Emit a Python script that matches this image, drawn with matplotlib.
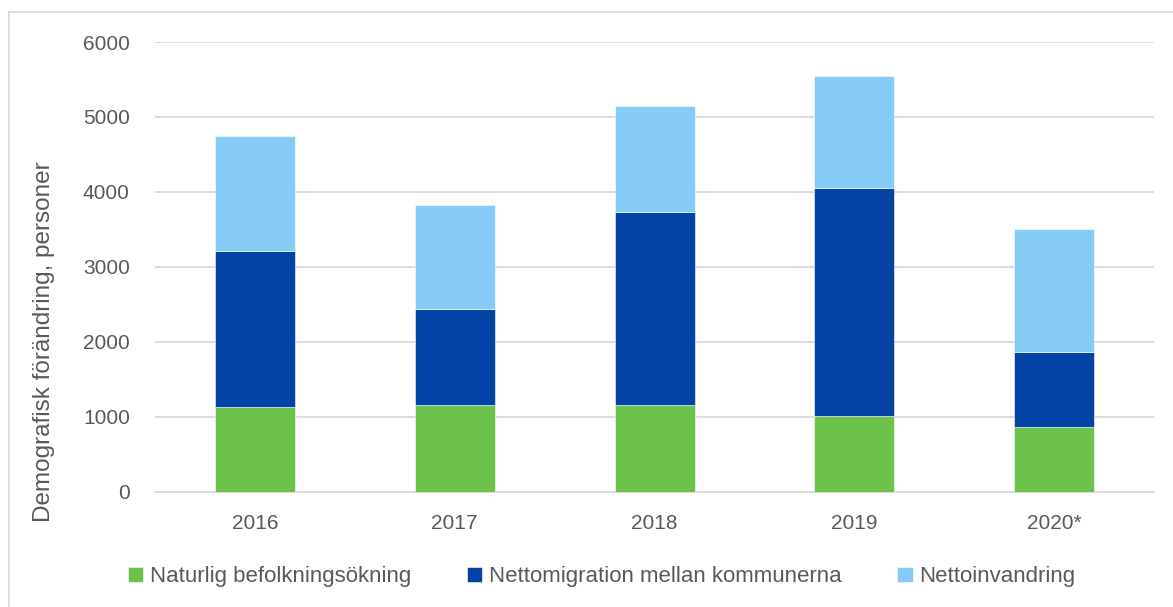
import matplotlib
matplotlib.use("Agg")
import matplotlib.pyplot as plt
from matplotlib.lines import Line2D

plt.rcParams["font.family"] = ["Liberation Sans", "DejaVu Sans"]

# donnees
annees = ["2016", "2017", "2018", "2019", "2020*"]
naturlig = [1133, 1160, 1160, 1013, 867]
nettomigration = [2080, 1280, 2573, 3040, 1000]
nettoinvandring = [1534, 1387, 1414, 1494, 1640]

series_noms = ["Naturlig befolkningsökning",
               "Nettomigration mellan kommunerna",
               "Nettoinvandring"]
couleurs = ["#6CC24A", "#0443A6", "#86CBF5"]
gris_texte = "#595959"

fig = plt.figure(figsize=(11.73, 6.07), dpi=100)
ax = fig.add_axes([0.132, 0.1895, 0.852, 0.7413])

x = range(len(annees))
bas = [0] * len(annees)
for valeurs, nom, coul in zip([naturlig, nettomigration, nettoinvandring], series_noms, couleurs):
    ax.bar(x, valeurs, width=0.4, bottom=bas, color=coul, label=nom,
           edgecolor="white", linewidth=0.4, zorder=3)
    bas = [b + v for b, v in zip(bas, valeurs)]

ax.set_xlim(-0.5, len(annees) - 0.5)
ax.set_ylim(0, 6000)
ax.set_yticks(range(0, 6001, 1000))
ax.set_xticks(list(x))
ax.set_xticklabels(annees)
ax.yaxis.grid(True, color="#D9D9D9", linewidth=1.3, zorder=0)
for cote in ["top", "right", "left"]:
    ax.spines[cote].set_visible(False)
ax.spines["bottom"].set_color("#D9D9D9")
ax.spines["bottom"].set_linewidth(1.3)
ax.tick_params(axis="both", length=0, labelsize=15, colors=gris_texte)
ax.tick_params(axis="x", pad=16)
ax.tick_params(axis="y", pad=18)
ax.set_ylabel("Demografisk förändring, personer", fontsize=17.5, color=gris_texte)
ax.yaxis.set_label_coords(-0.1, 0.333)

fig.legend(loc="center", bbox_to_anchor=(0.513, 0.05), ncol=3, frameon=False,
           fontsize=16, labelcolor=gris_texte, handlelength=0.7, handleheight=0.7,
           handletextpad=0.3, columnspacing=2.5)

# cadre gris clair (haut et gauche seulement)
fig.add_artist(Line2D([0.008, 1.0], [0.98, 0.98], transform=fig.transFigure,
                      color="#D9D9D9", linewidth=1.2))
fig.add_artist(Line2D([0.008, 0.008], [0.0, 0.98], transform=fig.transFigure,
                      color="#D9D9D9", linewidth=1.2))

fig.savefig("out.png", dpi=100)
plt.close(fig)
